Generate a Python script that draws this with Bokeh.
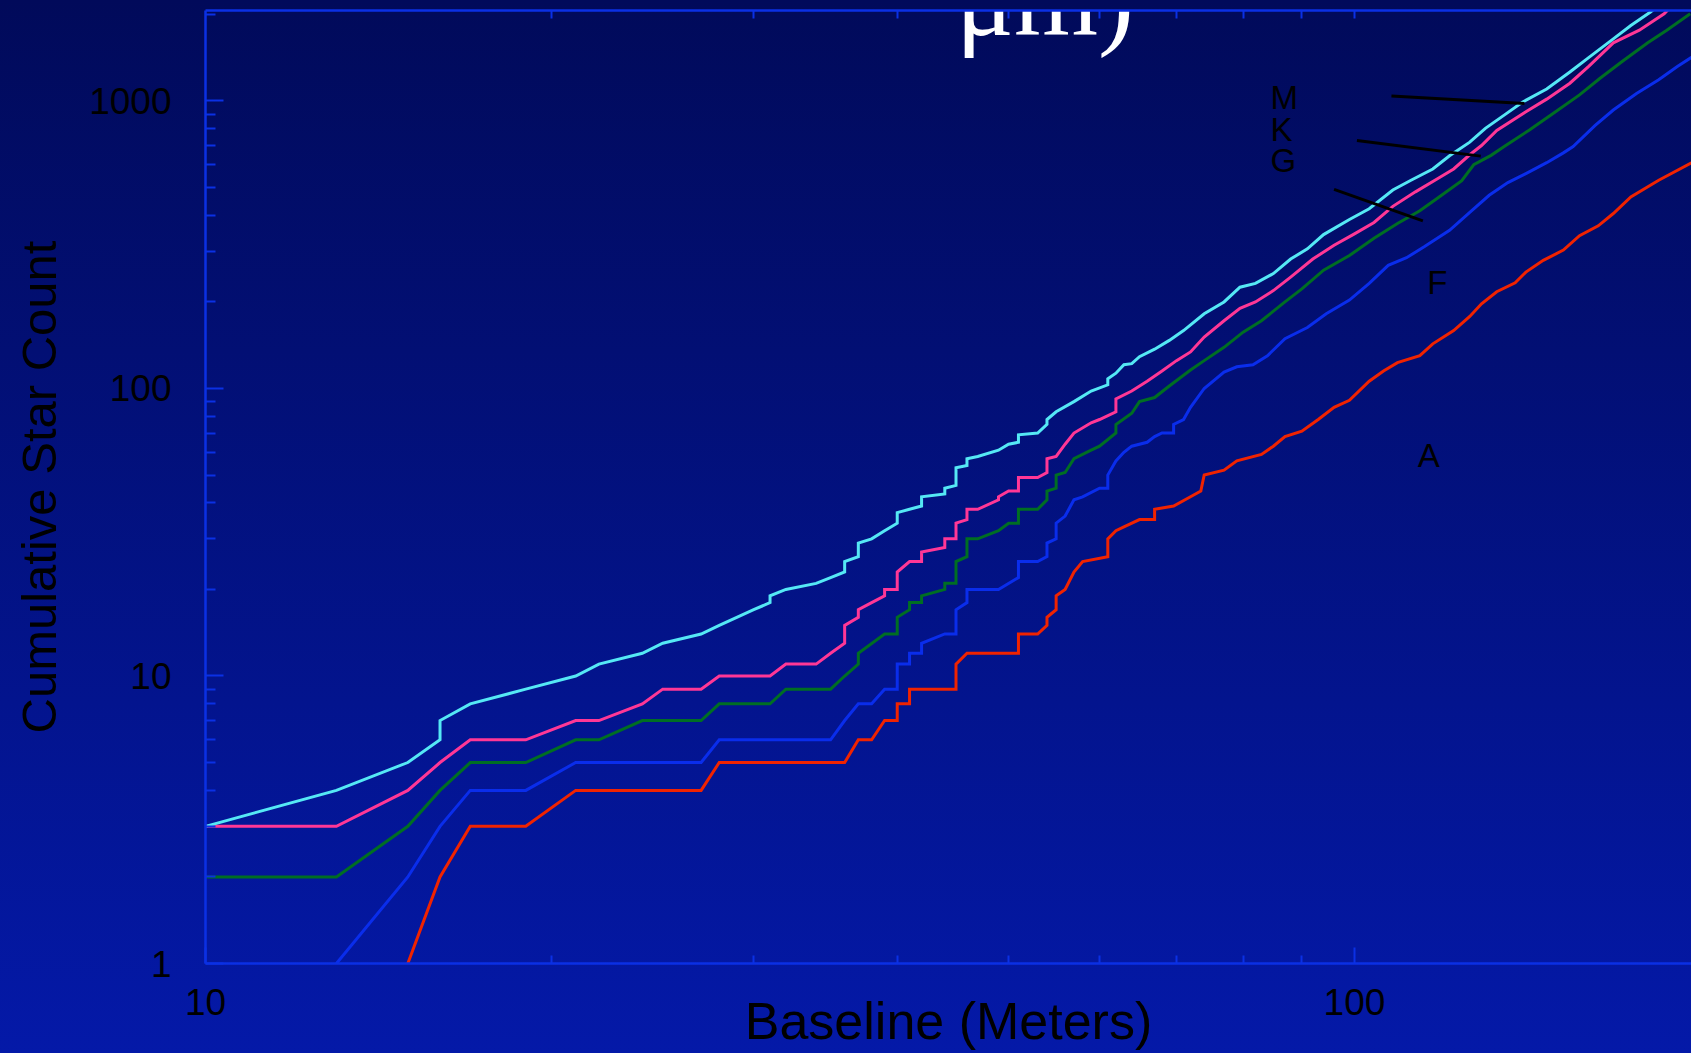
from bokeh.plotting import figure
from bokeh.models import (LogAxis, FixedTicker, Label, Range1d, ColumnDataSource,
                          BasicTickFormatter)
from bokeh.embed import file_html
from bokeh.resources import INLINE
from bokeh.core.properties import value

# ---------------- data ----------------
# M (cyan)
m_baseline = [10, 13, 15, 16, 16, 17, 19, 21, 22, 24, 25, 27, 28, 29, 30, 31, 31, 32, 34, 35,
              36, 36, 37, 37, 38, 39, 40, 40, 41, 42, 42, 44, 44, 45, 45, 46, 46, 47, 49, 50,
              51, 51, 53, 54, 54, 55, 57, 59, 61, 61, 62, 63, 64, 65, 67, 69, 71, 74, 77, 79.5,
              82, 85, 88, 91, 94, 99, 103, 108, 112, 117, 121, 126, 130, 135, 140, 147, 154, 160, 168, 174,
              181, 184]
m_count = [3, 4, 5, 6, 7, 8, 9, 10, 11, 12, 13, 14, 15, 16, 17, 18, 19, 20, 21, 22,
           23, 25, 26, 29, 30, 32, 34, 37, 38, 39, 42, 43, 45, 46, 53, 54, 57, 58, 61, 64,
           65, 69, 70, 75, 78, 83, 90, 98, 103, 108, 113, 121, 122, 129, 137, 147, 159, 182, 200, 225,
           232, 251, 282, 306, 343, 387, 422, 490, 530, 580, 645, 719, 803, 893, 990, 1101, 1261, 1418, 1644, 1830,
           2040, 2150]

# K (pink)
k_baseline = [10, 13, 15, 16, 17, 19, 21, 22, 24, 25, 27, 28, 31, 32, 34, 35, 36, 36, 37, 37,
              38, 39, 39, 40, 40, 41, 42, 42, 44, 44, 45, 45, 46, 46, 47, 49, 49, 50, 51, 51,
              53, 54, 54, 55, 56, 57, 59, 60, 62, 62, 64, 66, 68, 70, 72, 74, 77, 79.5, 82, 85,
              88, 92, 96, 100, 104, 108, 113, 118, 122, 126, 129, 133, 141, 147, 154, 160, 168, 177, 186, 188]
k_count = [3, 3, 4, 5, 6, 6, 7, 7, 8, 9, 9, 10, 10, 11, 11, 12, 13, 15, 16, 17,
           18, 19, 20, 20, 23, 25, 25, 27, 28, 30, 30, 34, 35, 38, 38, 41, 42, 44, 44, 49,
           49, 51, 57, 58, 64, 70, 76, 78, 83, 92, 98, 106, 115, 125, 134, 151, 172, 190, 200, 219,
           244, 282, 315, 345, 378, 430, 483, 535, 580, 650, 700, 790, 917, 1015, 1153, 1323, 1593, 1763, 2010, 2100]

# G (green)
g_baseline = [10, 13, 15, 16, 17, 19, 21, 22, 24, 27, 28, 31, 32, 35, 36, 37, 37, 39, 40, 40,
              41, 41, 42, 42, 44, 44, 45, 45, 46, 46, 47, 49, 50, 51, 51, 53, 54, 54, 55, 55,
              56, 57, 59, 60, 62, 62, 64, 65, 67, 69, 72, 74, 77, 80, 83, 87, 90, 94, 99, 104,
              109, 114, 118, 124, 127, 131.5, 135, 142, 149, 157, 163.5, 171, 180, 187, 196]
g_count = [2, 2, 3, 4, 5, 5, 6, 6, 7, 7, 8, 8, 9, 9, 10, 11, 12, 14, 14, 16,
           17, 18, 18, 19, 20, 21, 21, 25, 26, 30, 30, 32, 34, 34, 38, 38, 41, 44, 45, 50,
           51, 57, 61, 63, 70, 75, 82, 90, 93, 102, 116, 125, 139, 157, 172, 200, 222, 258, 290, 333,
           375, 415, 458, 528, 600, 647, 694, 793, 906, 1050, 1197, 1372, 1593, 1763, 2010]

# F (blue)
f_baseline = [13, 15, 16, 17, 19, 21, 27, 28, 35, 36, 37, 38, 39, 40, 40, 41, 41, 42, 42, 44,
              45, 45, 46, 46, 49, 51, 51, 53, 54, 54, 55, 55, 56, 57, 58, 60, 61, 61, 62, 63,
              64, 66, 67, 68, 69.6, 69.6, 71, 72, 74, 77, 79, 81.6, 84, 87, 91, 94.5, 99, 103, 107, 111,
              115, 121, 126, 131, 136, 141, 147, 152, 155, 162, 168, 176, 184, 191, 196.5]
f_count = [1, 2, 3, 4, 4, 5, 5, 6, 6, 7, 8, 8, 9, 9, 11, 11, 12, 12, 13, 14,
           14, 17, 18, 20, 20, 22, 25, 25, 26, 29, 30, 34, 36, 41, 42, 45, 45, 50, 56, 60,
           63, 65, 68, 70, 70, 75, 78, 86, 100, 114, 119, 121, 130, 149, 163, 182, 203, 232, 268, 285,
           311, 355, 410, 470, 520, 559, 610, 660, 694, 822, 930, 1062, 1186, 1317, 1418]

# A (red)
a_baseline = [15, 16, 17, 19, 21, 27, 28, 36, 37, 38, 39, 40, 40, 41, 41, 45, 45, 46, 51, 51,
              53, 54, 54, 55, 55, 56, 57, 58, 61, 61, 62, 63, 65, 67, 67, 69.6, 72, 73.5, 74, 77,
              79, 83, 85, 87, 90, 93, 96, 99, 103, 106, 109, 114, 117, 122, 126, 129, 133, 138, 141, 146,
              152, 157, 163, 168, 174, 184, 196.5]
a_count = [1, 2, 3, 3, 4, 4, 5, 5, 6, 6, 7, 7, 8, 8, 9, 9, 11, 12, 12, 14,
           14, 15, 16, 17, 19, 20, 23, 25, 26, 30, 32, 33, 35, 35, 38, 39, 42, 44, 50, 52,
           56, 59, 63, 68, 71, 78, 86, 91, 106, 115, 123, 130, 143, 159, 178, 197, 217, 233, 254, 279,
           303, 340, 368, 406, 464, 530, 609]

series_names = ["A", "F", "G", "K", "M"]
series_colors = ["#F02300", "#0A2DEB", "#006E23", "#FF3796", "#55E8F5"]

x_tick_values = [10, 100]
x_tick_labels = ["10", "100"]
x_minor_values = [20, 30, 40, 50, 60, 70, 80, 90]
top_tick_values = [20, 30, 40, 50, 60, 70, 80, 90, 100]
y_tick_values = [1, 10, 100, 1000]
y_tick_labels = ["1", "10", "100", "1000"]
y_minor_values = [2, 3, 4, 5, 6, 7, 8, 9, 20, 30, 40, 50, 60, 70, 80, 90,
                  200, 300, 400, 500, 600, 700, 800, 900, 2000]

# class letters and pointer lines (data coordinates)
tag_text = ["M", "K", "G", "F", "A"]
tag_x = [84.5, 84.5, 84.5, 115.7, 113.5]
tag_y = [1028, 798, 620, 233, 58.3]
pointer_x0 = [107.7, 100.5, 96.0]
pointer_y0 = [1041, 729, 493]
pointer_x1 = [140.6, 128.8, 114.7]
pointer_y1 = [980, 643, 383]

# ---------------- figure ----------------
AXC = "#0B30E4"
FONT = "Liberation Sans"

p = figure(width=1691, height=1053, x_axis_type="log", y_axis_type="log",
           x_range=Range1d(10, 196.5), y_range=Range1d(1, 2064),
           output_backend="svg", toolbar_location=None,
           min_border_left=205, min_border_right=0, min_border_top=10, min_border_bottom=90)
p.background_fill_alpha = 0
p.border_fill_alpha = 0
p.outline_line_color = None
p.grid.visible = False
p.styles = {"background": "linear-gradient(180deg, #010a5a 0%, #0419a8 100%)"}

bottom = p.below[0]
left = p.left[0]
top = LogAxis()
p.add_layout(top, "above")

for ax, tin, mtin in [(bottom, 16, 8), (top, 16, 8), (left, 18, 10)]:
    ax.axis_line_color = AXC
    ax.axis_line_width = 2.5
    ax.major_tick_line_color = AXC
    ax.minor_tick_line_color = AXC
    ax.major_tick_line_width = 2
    ax.minor_tick_line_width = 2
    ax.major_tick_out = 0
    ax.minor_tick_out = 0
    ax.major_tick_in = tin
    ax.minor_tick_in = mtin
    ax.major_label_text_font = FONT
    ax.major_label_text_font_size = "37px"
    ax.major_label_text_color = "black"
    ax.formatter = BasicTickFormatter(use_scientific=False)

bottom.ticker = FixedTicker(ticks=x_tick_values, minor_ticks=x_minor_values)
top.ticker = FixedTicker(ticks=[], minor_ticks=top_tick_values)
top.major_label_standoff = 0
left.ticker = FixedTicker(ticks=y_tick_values, minor_ticks=y_minor_values)
bottom.major_label_overrides = dict(zip(x_tick_values, x_tick_labels))
left.major_label_overrides = dict(zip(y_tick_values, y_tick_labels))
left.major_label_standoff = 34
bottom.major_label_standoff = 25

# axis titles
left.axis_label = "Cumulative Star Count"
left.axis_label_text_font = FONT
left.axis_label_text_font_size = "49px"
left.axis_label_text_font_style = "normal"
left.axis_label_text_color = "black"
left.axis_label_standoff = 20

bottom.axis_label = "Baseline (Meters)"
bottom.axis_label_text_font = FONT
bottom.axis_label_text_font_size = "52px"
bottom.axis_label_text_font_style = "normal"
bottom.axis_label_text_color = "black"
bottom.axis_label_standoff = -26

# title fragment (white serif, cut off at the top)
p.add_layout(Label(x=45.0, y=2275, text="μm)", text_font="Liberation Serif",
                   text_font_size="108px", text_color="white", text_baseline="alphabetic",
                   level="underlay"))

# data lines
data = {"A": (a_baseline, a_count), "F": (f_baseline, f_count), "G": (g_baseline, g_count),
        "K": (k_baseline, k_count), "M": (m_baseline, m_count)}
for name, color in zip(series_names, series_colors):
    bx, ny = data[name]
    p.line(bx, ny, line_color=color, line_width=3, line_join="miter")

# pointer lines and class letters
p.segment(pointer_x0, pointer_y0, pointer_x1, pointer_y1, line_color="black", line_width=3)
src = ColumnDataSource(dict(x=tag_x, y=tag_y, t=tag_text))
p.text("x", "y", text="t", source=src, text_font=value(FONT), text_font_size="33px",
       text_color="black", text_align="left", text_baseline="alphabetic")

open("out.html", "w").write(file_html(p, INLINE))
